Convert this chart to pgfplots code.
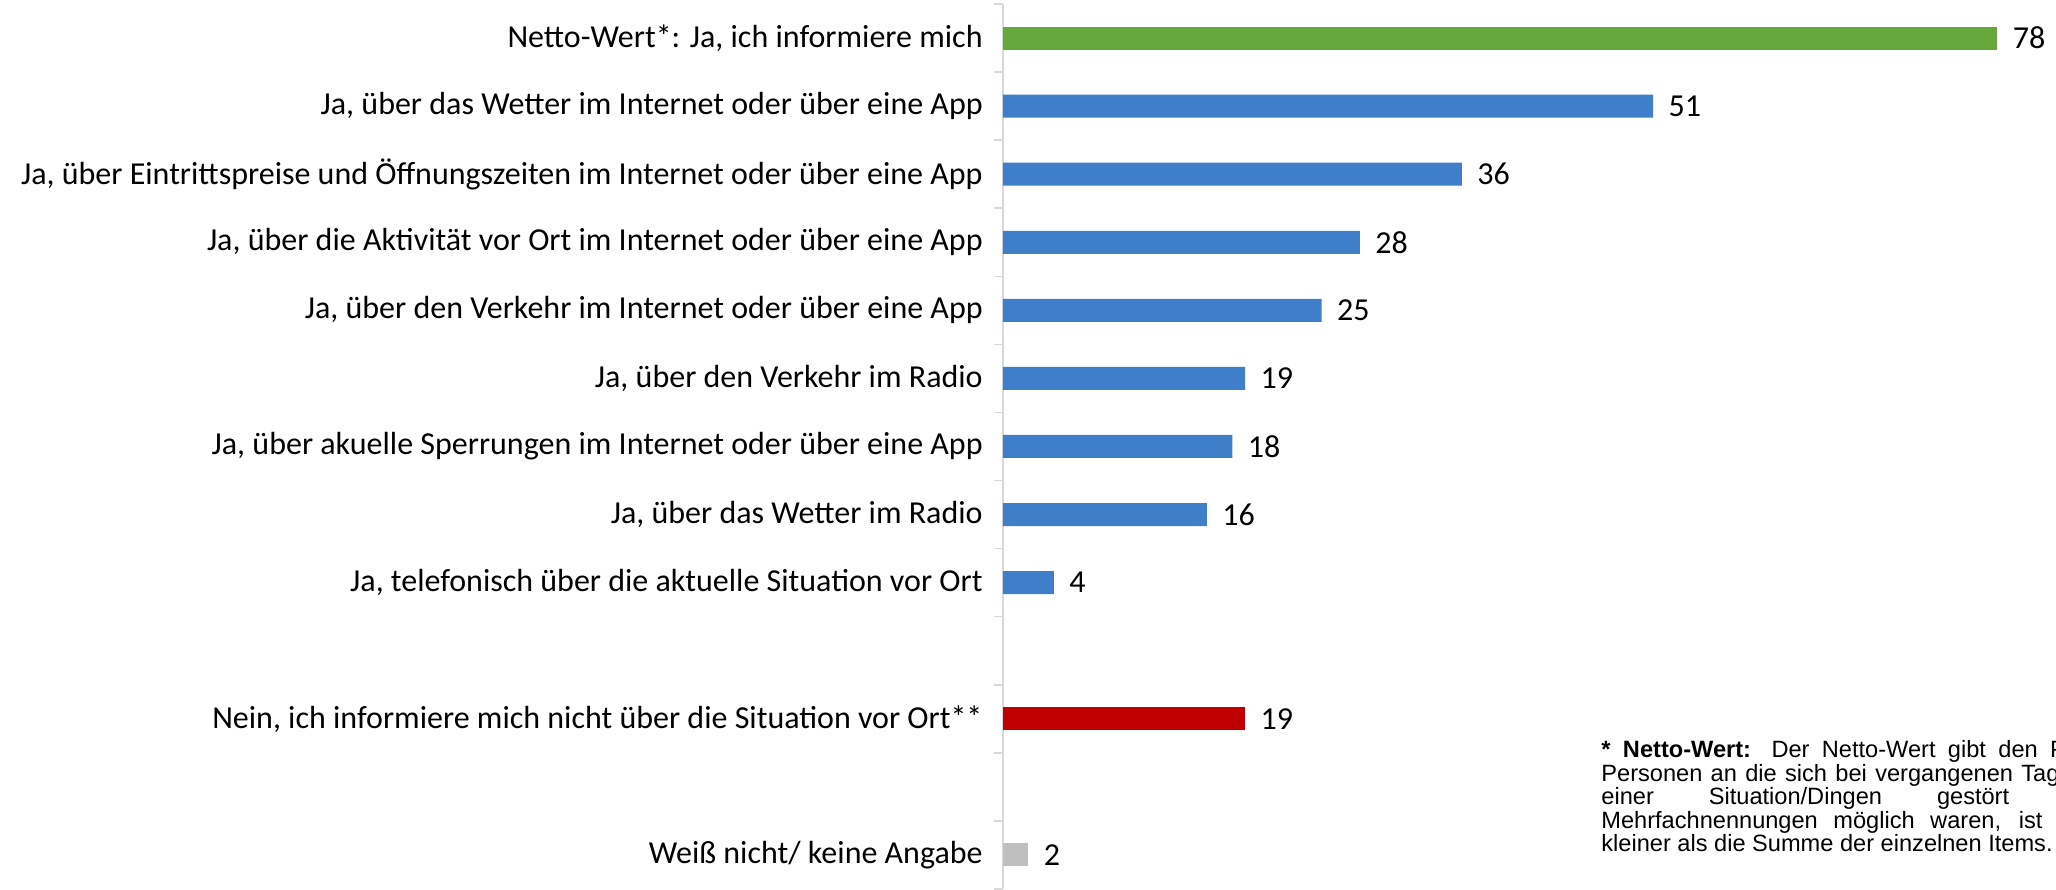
\documentclass[border=0pt]{standalone}
\usepackage{pgfplots}
\pgfplotsset{compat=1.18}
\usepackage{fontspec}
\setmainfont{Carlito}
\newfontfamily\footfont{Liberation Sans}
\definecolor{cgreen}{HTML}{66A83B}
\definecolor{cblue}{HTML}{3F7FCA}
\definecolor{cred}{HTML}{C00000}
\definecolor{cgrey}{HTML}{BFBFBF}
\definecolor{caxis}{HTML}{D9D9D9}
\begin{document}
\begin{tikzpicture}
\useasboundingbox (-501.5pt,0pt) rectangle (526.5pt,444.5pt);
\clip (-501.5pt,0pt) rectangle (526.5pt,444.5pt);
\begin{axis}[
  at={(0pt,0pt)}, anchor=south west,
  scale only axis, width=526.5pt, height=442.5pt,
  xmin=0, xmax=82.59, ymin=-0.5, ymax=12.5,
  axis x line=none, axis y line*=left,
  y axis line style={caxis, line width=0.75pt},
  ytick={0,...,12},
  yticklabels={{Weiß nicht/ keine Angabe},{},{Nein, ich informiere mich nicht über die Situation vor Ort**},{},
    {Ja, telefonisch über die aktuelle Situation vor Ort},
    {Ja, über das Wetter im Radio},
    {Ja, über akuelle Sperrungen im Internet oder über eine App},
    {Ja, über den Verkehr im Radio},
    {Ja, über den Verkehr im Internet oder über eine App},
    {Ja, über die Aktivität vor Ort im Internet oder über eine App},
    {Ja, über Eintrittspreise und Öffnungszeiten im Internet oder über eine App},
    {Ja, über das Wetter im Internet oder über eine App},
    {Netto-Wert*: Ja, ich informiere mich}},
  major tick length=0pt,
  minor ytick={-0.5,0.5,...,12.5},
  minor tick length=4.5pt,
  tick align=outside,
  minor tick style={caxis, line width=0.75pt},
  yticklabel style={font=\fontsize{16}{19}\selectfont, inner sep=0pt, xshift=-10pt},
  xbar, bar width=11.5pt, bar shift=0pt,
  /pgf/number format/assume math mode=true,
  nodes near coords,
  every node near coord/.append style={font=\fontsize{16}{19}\selectfont, black, anchor=west, inner sep=0pt, xshift=7.5pt},
  clip=false,
]
\addplot[fill=cgreen, draw=none] coordinates {(78,12)};
\addplot[fill=cblue, draw=none] coordinates {(51,11) (36,10) (28,9) (25,8) (19,7) (18,6) (16,5) (4,4)};
\addplot[fill=cred, draw=none] coordinates {(19,2)};
\addplot[fill=cgrey, draw=none] coordinates {(2,0)};
\end{axis}
\node[anchor=base west, inner sep=0pt] at (299pt,65.5pt) {\parbox[t]{310pt}{\footfont\fontsize{11.8}{11.7}\selectfont
\makebox[310pt][s]{\textbf{* Netto-Wert:} Der Netto-Wert gibt den Prozentsatz der}\\
\makebox[310pt][s]{Personen an die sich bei vergangenen Tagesausflügen an}\\
\makebox[310pt][l]{einer\hspace{27.5pt}Situation/Dingen\hspace{27.5pt}gestört\hspace{27.5pt}haben. Da}\\
\makebox[310pt][s]{Mehrfachnennungen möglich waren, ist der Netto-Wert}\\
kleiner als die Summe der einzelnen Items.}};
\end{tikzpicture}
\end{document}
